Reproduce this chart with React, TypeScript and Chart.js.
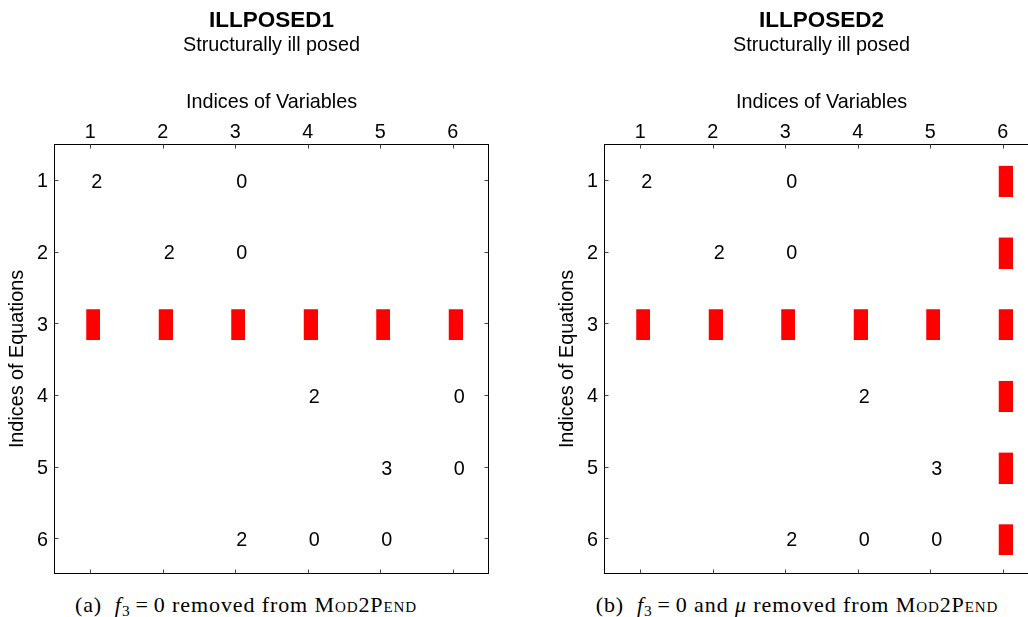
import React, { useEffect, useRef } from 'react';
import { Chart, registerables } from 'chart.js';

Chart.register(...registerables);

// ---------- data ----------
const variableTicks = ['1', '2', '3', '4', '5', '6'];
const equationTicks = ['1', '2', '3', '4', '5', '6'];

const subtitleText = 'Structurally ill posed';
const xTitleText = 'Indices of Variables';
const yTitleText = 'Indices of Equations';

// Panel (a)
const aTitle = 'ILLPOSED1';
const aTextRows = [1, 1, 2, 2, 4, 4, 5, 5, 6, 6, 6];
const aTextCols = [1, 3, 2, 3, 4, 6, 5, 6, 3, 4, 5];
const aTextVals = ['2', '0', '2', '0', '2', '0', '3', '0', '2', '0', '0'];
const aMarkRows = [3, 3, 3, 3, 3, 3];
const aMarkCols = [1, 2, 3, 4, 5, 6];

// Panel (b)
const bTitle = 'ILLPOSED2';
const bTextRows = [1, 1, 2, 2, 4, 5, 6, 6, 6];
const bTextCols = [1, 3, 2, 3, 4, 5, 3, 4, 5];
const bTextVals = ['2', '0', '2', '0', '2', '3', '2', '0', '0'];
const bMarkRows = [3, 3, 3, 3, 3, 3, 1, 2, 4, 5, 6];
const bMarkCols = [1, 2, 3, 4, 5, 6, 6, 6, 6, 6, 6];

// ---------- styling ----------
const SANS = '"Liberation Sans", Arial, Helvetica, sans-serif';
const LABEL_SIZE = 19.8;

const matrixPlugin = {
  id: 'matrixDecor',
  afterDatasetsDraw(chart: any) {
    const { ctx, chartArea: a, scales } = chart;
    const ds = chart.data.datasets[0];
    const meta = chart.getDatasetMeta(0);
    ctx.save();
    ctx.font = `${LABEL_SIZE}px ${SANS}`;
    ctx.fillStyle = '#000';
    ctx.textAlign = 'left';
    ctx.textBaseline = 'middle';
    meta.data.forEach((el: any, i: number) => {
      ctx.fillText(ds.cellLabels[i], el.x + 1, el.y + 2.5);
    });
    // box
    const l = Math.round(a.left) + 0.5;
    const t = Math.round(a.top) + 0.5;
    const r = Math.round(a.right) - 0.5;
    const b = Math.round(a.bottom) - 0.5;
    ctx.strokeStyle = '#000';
    ctx.lineWidth = 1;
    ctx.strokeRect(l, t, r - l, b - t);
    // inner tick marks on all four sides
    const TL = 4;
    ctx.strokeStyle = '#444';
    ctx.beginPath();
    scales.x.ticks.forEach((tk: any) => {
      const px = Math.round(scales.x.getPixelForValue(tk.value)) + 0.5;
      ctx.moveTo(px, t); ctx.lineTo(px, t + TL);
      ctx.moveTo(px, b); ctx.lineTo(px, b - TL);
    });
    scales.y.ticks.forEach((tk: any) => {
      const py = Math.round(scales.y.getPixelForValue(tk.value)) + 0.5;
      ctx.moveTo(l, py); ctx.lineTo(l + TL, py);
      ctx.moveTo(r, py); ctx.lineTo(r - TL, py);
    });
    ctx.stroke();
    ctx.restore();
  },
};

type PanelProps = {
  title: string;
  textRows: number[];
  textCols: number[];
  textVals: string[];
  markRows: number[];
  markCols: number[];
  left: number;
};

function Panel({ title, textRows, textCols, textVals, markRows, markCols, left }: PanelProps) {
  const ref = useRef<HTMLCanvasElement | null>(null);

  useEffect(() => {
    if (!ref.current) return;
    const marker = document.createElement('canvas');
    marker.width = 20;
    marker.height = 34;
    const mc = marker.getContext('2d')!;
    mc.fillStyle = '#ff0000';
    mc.fillRect(6, 3, 14, 31);

    Chart.defaults.font.family = SANS;
    Chart.defaults.color = '#000';

    const chart = new Chart(ref.current, {
      type: 'scatter',
      data: {
        datasets: [
          {
            data: textRows.map((r, i) => ({ x: textCols[i], y: r })),
            cellLabels: textVals,
            pointRadius: 0,
            pointHoverRadius: 0,
          } as any,
          {
            data: markRows.map((r, i) => ({ x: markCols[i], y: r })),
            pointStyle: marker,
            pointRadius: 10,
            pointHoverRadius: 10,
          } as any,
        ],
      },
      options: {
        animation: false,
        responsive: false,
        events: [],
        layout: { padding: { left: 0, right: 25, top: 0, bottom: 13 } },
        plugins: {
          legend: { display: false },
          tooltip: { enabled: false },
          title: {
            display: true,
            text: title,
            fullSize: false,
            color: '#000',
            font: { size: 22.5, weight: 'bold', family: SANS, lineHeight: 1.2 },
            padding: { top: 7, bottom: 0 },
          },
          subtitle: {
            display: true,
            text: subtitleText,
            fullSize: false,
            color: '#000',
            font: { size: LABEL_SIZE, family: SANS, lineHeight: 1.2 },
            padding: { top: 0, bottom: 0.24 },
          },
        },
        scales: {
          x: {
            type: 'linear',
            position: 'top',
            min: 0.5,
            max: 6.5,
            grid: { display: false, drawTicks: false },
            border: { display: false },
            title: {
              display: true,
              text: xTitleText,
              color: '#000',
              font: { size: LABEL_SIZE, family: SANS, lineHeight: 1.2 },
              padding: { top: 33, bottom: 0 },
            },
            ticks: {
              color: '#000',
              font: { size: LABEL_SIZE, family: SANS, lineHeight: 1 },
              padding: 2,
              maxRotation: 0,
              autoSkip: false,
              callback: (v: any) => variableTicks[Number(v) - 1] ?? '',
            },
            afterBuildTicks: (s: any) => {
              s.ticks = variableTicks.map((_, i) => ({ value: i + 1 }));
            },
            afterFit: (s: any) => {
              s.height = 86;
            },
          },
          y: {
            type: 'linear',
            position: 'left',
            min: 0.5,
            max: 6.5,
            reverse: true,
            grid: { display: false, drawTicks: false },
            border: { display: false },
            title: {
              display: true,
              text: yTitleText,
              color: '#000',
              font: { size: LABEL_SIZE, family: SANS, lineHeight: 1.2 },
              padding: { top: 6, bottom: 0 },
            },
            ticks: {
              color: '#000',
              font: { size: LABEL_SIZE, family: SANS, lineHeight: 1 },
              padding: 6,
              labelOffset: 2,
              autoSkip: false,
              callback: (v: any) => equationTicks[Number(v) - 1] ?? '',
            },
            afterBuildTicks: (s: any) => {
              s.ticks = equationTicks.map((_, i) => ({ value: i + 1 }));
            },
            afterFit: (s: any) => {
              s.width = 54;
            },
          },
        },
      } as any,
      plugins: [matrixPlugin],
    });
    return () => chart.destroy();
  }, [title, textRows, textCols, textVals, markRows, markCols]);

  return (
    <canvas
      ref={ref}
      width={514}
      height={590}
      style={{ position: 'absolute', left, top: 0, width: 514, height: 590 }}
    />
  );
}

const captionStyle: React.CSSProperties = {
  position: 'absolute',
  top: 592,
  width: 492,
  textAlign: 'center',
  fontFamily: '"Liberation Serif", "DejaVu Serif", serif',
  fontSize: 22,
  letterSpacing: '0.9px',
  lineHeight: '26px',
  color: '#000',
  whiteSpace: 'nowrap',
};

const subStyle: React.CSSProperties = {
  fontSize: '0.7em',
  verticalAlign: '-0.25em',
  lineHeight: 0,
};

const relStyle: React.CSSProperties = { margin: '0 5px' };

export default function App() {
  return (
    <div
      style={{
        position: 'absolute',
        left: 0,
        top: 0,
        width: 1028,
        height: 617,
        overflow: 'hidden',
        background: '#fff',
      }}
    >
      <Panel
        title={aTitle}
        textRows={aTextRows}
        textCols={aTextCols}
        textVals={aTextVals}
        markRows={aMarkRows}
        markCols={aMarkCols}
        left={0}
      />
      <Panel
        title={bTitle}
        textRows={bTextRows}
        textCols={bTextCols}
        textVals={bTextVals}
        markRows={bMarkRows}
        markCols={bMarkCols}
        left={550}
      />
      <div style={{ ...captionStyle, left: 0 }}>
        (a)&nbsp;&nbsp;<i>f</i>
        <span style={subStyle}>3</span>
        <span style={relStyle}>=</span>0 removed from{' '}
        <span style={{ fontVariant: 'small-caps' }}>Mod2Pend</span>
      </div>
      <div style={{ ...captionStyle, left: 551 }}>
        (b)&nbsp;&nbsp;<i>f</i>
        <span style={subStyle}>3</span>
        <span style={relStyle}>=</span>0 and <i>μ</i> removed from{' '}
        <span style={{ fontVariant: 'small-caps' }}>Mod2Pend</span>
      </div>
    </div>
  );
}
